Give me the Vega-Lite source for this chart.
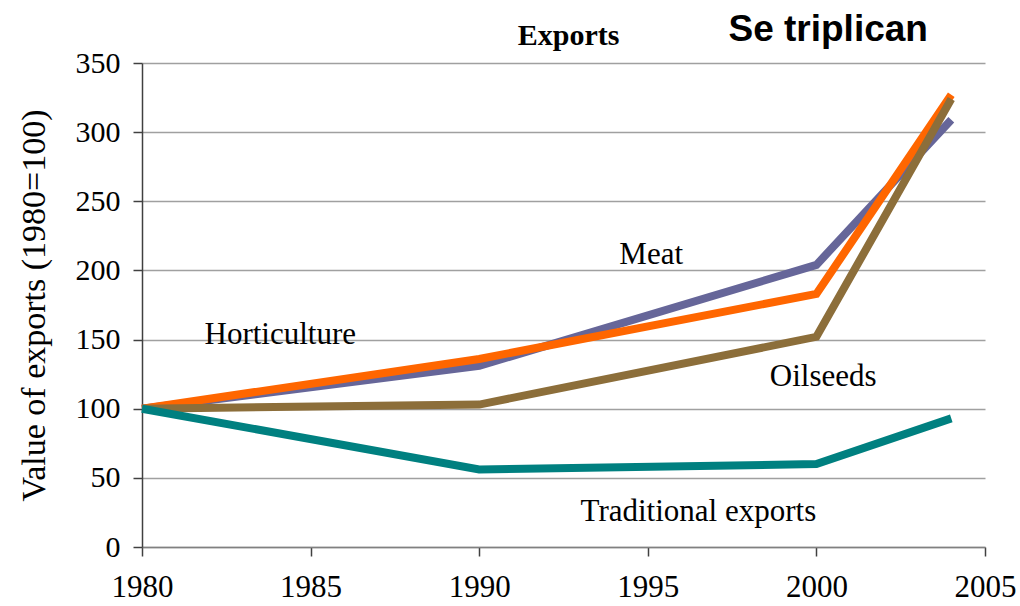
{
  "$schema": "https://vega.github.io/schema/vega-lite/v6.json",
  "width": 843,
  "height": 484,
  "autosize": {"type": "none"},
  "padding": {"left": 142, "top": 63, "right": 35, "bottom": 59},
  "background": "white",
  "config": {"view": {"stroke": null}},
  "datasets": {
    "series": [
      {"series": "Meat", "year": 1980, "value": 100},
      {"series": "Meat", "year": 1990, "value": 131},
      {"series": "Meat", "year": 2000, "value": 204},
      {"series": "Meat", "year": 2004, "value": 309},
      {"series": "Horticulture", "year": 1980, "value": 100},
      {"series": "Horticulture", "year": 1990, "value": 136},
      {"series": "Horticulture", "year": 2000, "value": 183},
      {"series": "Horticulture", "year": 2004, "value": 327},
      {"series": "Oilseeds", "year": 1980, "value": 100},
      {"series": "Oilseeds", "year": 1990, "value": 103},
      {"series": "Oilseeds", "year": 2000, "value": 152},
      {"series": "Oilseeds", "year": 2004, "value": 324},
      {"series": "Traditional exports", "year": 1980, "value": 100},
      {"series": "Traditional exports", "year": 1990, "value": 56},
      {"series": "Traditional exports", "year": 2000, "value": 60},
      {"series": "Traditional exports", "year": 2004, "value": 93}
    ],
    "labels": [
      {"label": "Meat", "year": 1995.1, "value": 211},
      {"label": "Horticulture", "year": 1984.1, "value": 153},
      {"label": "Oilseeds", "year": 2000.2, "value": 123},
      {"label": "Traditional exports", "year": 1996.5, "value": 25}
    ],
    "title": [
      {"label": "Exports", "year": 1992.65, "value": 363}
    ],
    "headline": [
      {"label": "Se triplican", "year": 2000.35, "value": 366}
    ]
  },
  "encoding": {
    "x": {"field": "year", "type": "quantitative",
      "scale": {"domain": [1980, 2005], "nice": false, "zero": false},
      "axis": {"title": null, "values": [1980, 1985, 1990, 1995, 2000, 2005], "format": "d", "grid": false,
        "labelFont": "Liberation Serif", "labelFontSize": 31, "labelColor": "black", "labelPadding": 16,
        "labelFlush": false, "labelBound": false, "labelOverlap": false,
        "domainColor": "#808080", "tickColor": "#404040", "tickSize": 9, "domainWidth": 1.5, "tickWidth": 1.5}},
    "y": {"field": "value", "type": "quantitative",
      "scale": {"domain": [0, 350], "nice": false},
      "axis": {"title": "Value of exports (1980=100)", "values": [0, 50, 100, 150, 200, 250, 300, 350],
        "titleFont": "Liberation Serif", "titleFontSize": 34, "titleFontWeight": "normal", "titleColor": "black", "titlePadding": 24,
        "labelFont": "Liberation Serif", "labelFontSize": 30, "labelColor": "black", "labelPadding": 13,
        "labelFlush": false, "labelOverlap": false,
        "gridColor": "#a0a0a0", "gridWidth": 1.5,
        "domainColor": "#404040", "tickColor": "#404040", "tickSize": 9, "domainWidth": 1.5, "tickWidth": 1.5}}
  },
  "layer": [
    {"data": {"name": "series"}, "transform": [{"filter": "datum.series === 'Meat'"}],
      "mark": {"type": "line", "color": "#666699", "strokeWidth": 8}},
    {"data": {"name": "series"}, "transform": [{"filter": "datum.series === 'Horticulture'"}],
      "mark": {"type": "line", "color": "#ff6600", "strokeWidth": 8}},
    {"data": {"name": "series"}, "transform": [{"filter": "datum.series === 'Oilseeds'"}],
      "mark": {"type": "line", "color": "#8c6e3a", "strokeWidth": 8}},
    {"data": {"name": "series"}, "transform": [{"filter": "datum.series === 'Traditional exports'"}],
      "mark": {"type": "line", "color": "#008080", "strokeWidth": 8}},
    {"data": {"name": "labels"},
      "mark": {"type": "text", "font": "Liberation Serif", "fontSize": 31, "color": "black", "align": "center", "baseline": "middle"},
      "encoding": {"text": {"field": "label"}}},
    {"data": {"name": "title"},
      "mark": {"type": "text", "font": "Liberation Serif", "fontSize": 30, "fontWeight": "bold", "color": "black", "align": "center", "baseline": "alphabetic", "clip": false},
      "encoding": {"text": {"field": "label"}}},
    {"data": {"name": "headline"},
      "mark": {"type": "text", "font": "Liberation Sans", "fontSize": 37, "fontWeight": "bold", "color": "black", "align": "center", "baseline": "alphabetic", "clip": false},
      "encoding": {"text": {"field": "label"}}}
  ]
}
